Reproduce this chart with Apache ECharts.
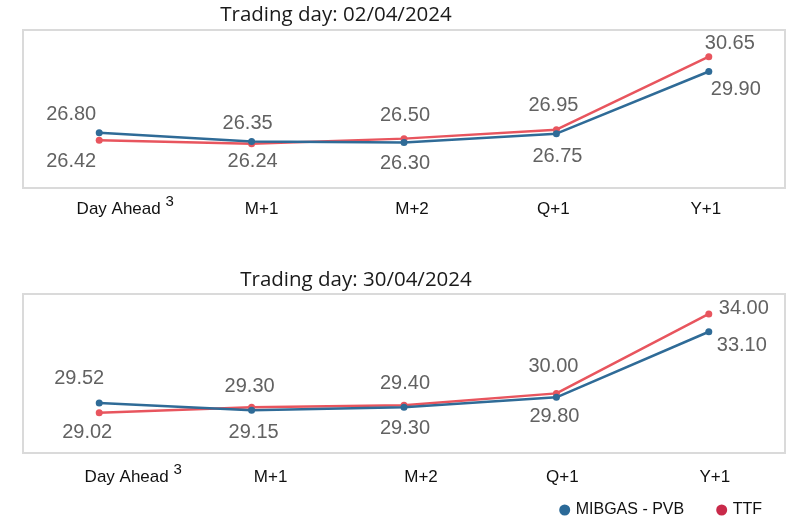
<!DOCTYPE html>
<html>
<head>
<meta charset="utf-8">
<script src="https://cdn.jsdelivr.net/npm/echarts@6/dist/echarts.min.js"></script>
<style>
  html, body { margin: 0; padding: 0; background: #fff; }
  #main { width: 795px; height: 519px; }
</style>
</head>
<body>
<div id="main"></div>
<script>
// categorias y precios (EUR/MWh)
const categories = ["Day Ahead", "M+1", "M+2", "Q+1", "Y+1"];
const mibgasApr02 = [26.80, 26.35, 26.30, 26.75, 29.90];
const ttfApr02 = [26.42, 26.24, 26.50, 26.95, 30.65];
const mibgasApr30 = [29.52, 29.15, 29.30, 29.80, 33.10];
const ttfApr30 = [29.02, 29.30, 29.40, 30.00, 34.00];

// desplazamiento de las etiquetas respecto al punto [dx, dy]
const offMibgasTop = [[-28, -18], [-4, -18], [1, 21], [1, 23], [27, 18]];
const offTtfTop = [[-28, 21], [1, 18], [1, -23], [-3, -24], [21, -13]];
const offMibgasBot = [[-20, -24], [2, 22], [1, 21], [-2, 19], [33, 14]];
const offTtfBot = [[-12, 20], [-2, -21], [1, -22], [-3, -27], [35, -5]];

// desplazamiento horizontal de las etiquetas del eje
const axisShiftTop = [26, 10, 8, -3, -3];
const axisShiftBot = [34, 19, 17, 6, 6];

const BLUE = "#2f6b97";
const RED = "#e8555e";
const LABEL_FONT = "Liberation Sans";

const chart = echarts.init(document.getElementById("main"), null, { renderer: "canvas" });

function axisRich(shifts) {
  const rich = {
    sup: { fontSize: 15, fontFamily: LABEL_FONT, color: "#111", lineHeight: 15, verticalAlign: "top" }
  };
  shifts.forEach((s, i) => {
    rich["c" + i] = {
      fontSize: 17,
      fontFamily: LABEL_FONT,
      color: "#111",
      lineHeight: 30,
      padding: s >= 0 ? [0, 0, 0, 2 * s] : [0, 2 * -s, 0, 0]
    };
  });
  return rich;
}

function xAxisCfg(gridIndex, shifts, margin) {
  return {
    type: "category",
    gridIndex: gridIndex,
    data: categories,
    boundaryGap: true,
    axisLine: { show: false },
    axisTick: { show: false },
    splitLine: { show: false },
    axisLabel: {
      interval: 0,
      hideOverlap: false,
      margin: margin,
      formatter: (v, i) => (v === "Day Ahead" ? "{c" + i + "|Day Ahead }{sup|3}" : "{c" + i + "|" + v + "}"),
      rich: axisRich(shifts)
    }
  };
}

function lineSeries(name, values, offsets, color, axisIndex, z) {
  return {
    name: name,
    type: "line",
    xAxisIndex: axisIndex,
    yAxisIndex: axisIndex,
    z: z,
    symbol: "circle",
    symbolSize: 7,
    color: color,
    lineStyle: { width: 2.5, color: color },
    itemStyle: { color: color },
    label: {
      show: true,
      position: "inside",
      fontFamily: LABEL_FONT,
      fontSize: 20,
      color: "#626262",
      formatter: (p) => p.value.toFixed(2)
    },
    emphasis: { disabled: true },
    data: values.map((v, i) => ({ value: v, label: { offset: offsets[i] } }))
  };
}

const option = {
  animation: false,
  backgroundColor: "#fff",
  graphic: [
    {
      type: "text",
      x: 336,
      y: 15,
      style: { text: "Trading day: 02/04/2024", fill: "#1a1a1a", font: '20.5px "Open Sans"', align: "center", verticalAlign: "middle" }
    },
    {
      type: "text",
      x: 356,
      y: 280,
      style: { text: "Trading day: 30/04/2024", fill: "#1a1a1a", font: '20.5px "Open Sans"', align: "center", verticalAlign: "middle" }
    }
  ],
  legend: {
    data: [
      { name: "MIBGAS - PVB", itemStyle: { color: "#2b6a98" } },
      { name: "TTF", itemStyle: { color: "#c92a4a" } }
    ],
    icon: "circle",
    itemWidth: 12,
    itemHeight: 11,
    itemGap: 32,
    right: 28,
    top: 497,
    textStyle: { fontFamily: LABEL_FONT, fontSize: 16, color: "#111" }
  },
  grid: [
    { left: 23, right: 10, top: 30, height: 158, show: true, borderColor: "#dadada", borderWidth: 2 },
    { left: 23, right: 10, top: 294, height: 159, show: true, borderColor: "#dadada", borderWidth: 2 }
  ],
  xAxis: [xAxisCfg(0, axisShiftTop, 6), xAxisCfg(1, axisShiftBot, 9)],
  yAxis: [
    { type: "value", gridIndex: 0, min: 24, max: 32, show: false, splitLine: { show: false } },
    { type: "value", gridIndex: 1, min: 27, max: 35, show: false, splitLine: { show: false } }
  ],
  series: [
    lineSeries("TTF", ttfApr02, offTtfTop, RED, 0, 2),
    lineSeries("MIBGAS - PVB", mibgasApr02, offMibgasTop, BLUE, 0, 3),
    lineSeries("TTF", ttfApr30, offTtfBot, RED, 1, 2),
    lineSeries("MIBGAS - PVB", mibgasApr30, offMibgasBot, BLUE, 1, 3)
  ]
};

chart.setOption(option);
</script>
</body>
</html>
